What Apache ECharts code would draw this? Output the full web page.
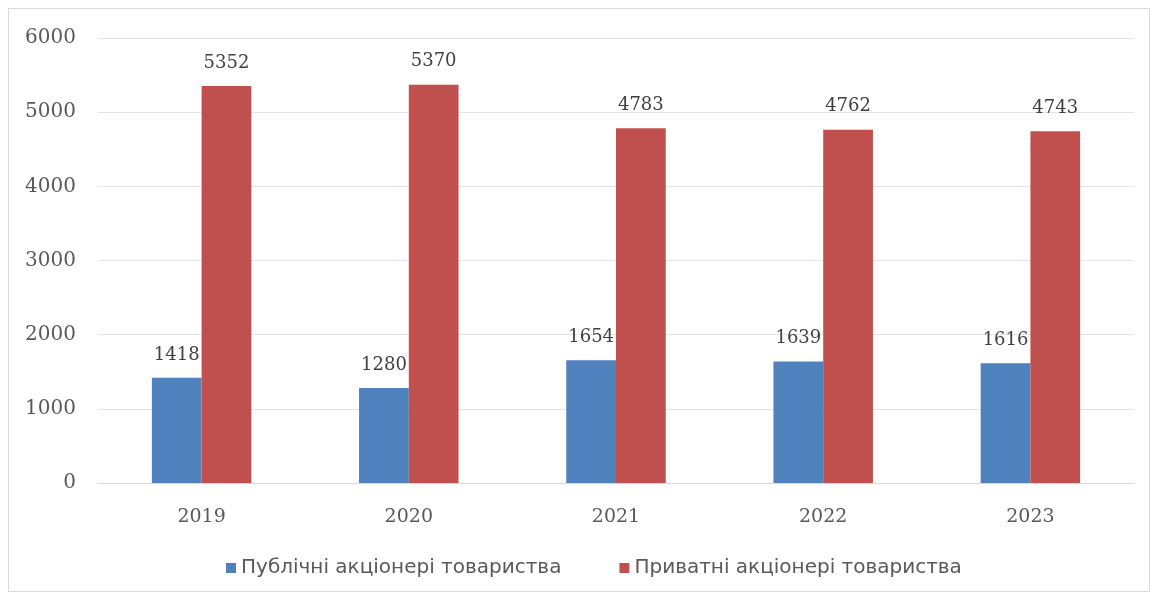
<!DOCTYPE html>
<html>
<head>
<meta charset="utf-8">
<script src="https://cdn.jsdelivr.net/npm/echarts@6/dist/echarts.min.js"></script>
<style>
  html, body { margin: 0; padding: 0; background: #fff; }
  #chart { width: 1158px; height: 602px; }
</style>
</head>
<body>
<div id="chart"></div>
<script>
// Кількість акціонерних товариств за роками
const years = ['2019', '2020', '2021', '2022', '2023'];
const publicJsc = [1418, 1280, 1654, 1639, 1616];
const privateJsc = [5352, 5370, 4783, 4762, 4743];
const seriesNames = ['Публічні акціонері товариства', 'Приватні акціонері товариства'];

const chart = echarts.init(document.getElementById('chart'));

const valueLabel = {
  show: true,
  position: 'top',
  distance: 14,
  fontFamily: 'DejaVu Serif',
  fontSize: 18,
  color: '#404040'
};

chart.setOption({
  animation: false,
  backgroundColor: '#ffffff',
  graphic: [{
    type: 'rect',
    shape: { x: 8.5, y: 8.5, width: 1141, height: 583 },
    style: { fill: 'none', stroke: '#d9d9d9', lineWidth: 1 },
    z: -1
  }],
  grid: { left: 98, right: 24, top: 38, bottom: 119 },
  legend: {
    bottom: 19,
    left: 221,
    itemWidth: 10,
    itemHeight: 10,
    itemGap: 58,
    icon: 'rect',
    textStyle: { fontFamily: 'DejaVu Sans', fontSize: 20, color: '#595959' },
    data: seriesNames
  },
  xAxis: {
    type: 'category',
    data: years,
    axisLine: { lineStyle: { color: '#d9d9d9' } },
    axisTick: { show: false },
    axisLabel: { fontFamily: 'DejaVu Serif', fontSize: 19, color: '#595959', margin: 25 }
  },
  yAxis: {
    type: 'value',
    min: 0,
    max: 6000,
    interval: 1000,
    axisLine: { show: false },
    axisTick: { show: false },
    splitLine: { lineStyle: { color: '#e3e3e3' } },
    axisLabel: {
      fontFamily: 'DejaVu Serif',
      fontSize: 20,
      color: '#595959',
      margin: 22,
      formatter: (v) => String(v)
    }
  },
  series: [
    {
      name: seriesNames[0],
      type: 'bar',
      data: publicJsc,
      barGap: '0%',
      barCategoryGap: '52%',
      itemStyle: { color: '#4f81bd' },
      label: valueLabel
    },
    {
      name: seriesNames[1],
      type: 'bar',
      data: privateJsc,
      itemStyle: { color: '#c0504d' },
      label: valueLabel
    }
  ]
});
</script>
</body>
</html>
